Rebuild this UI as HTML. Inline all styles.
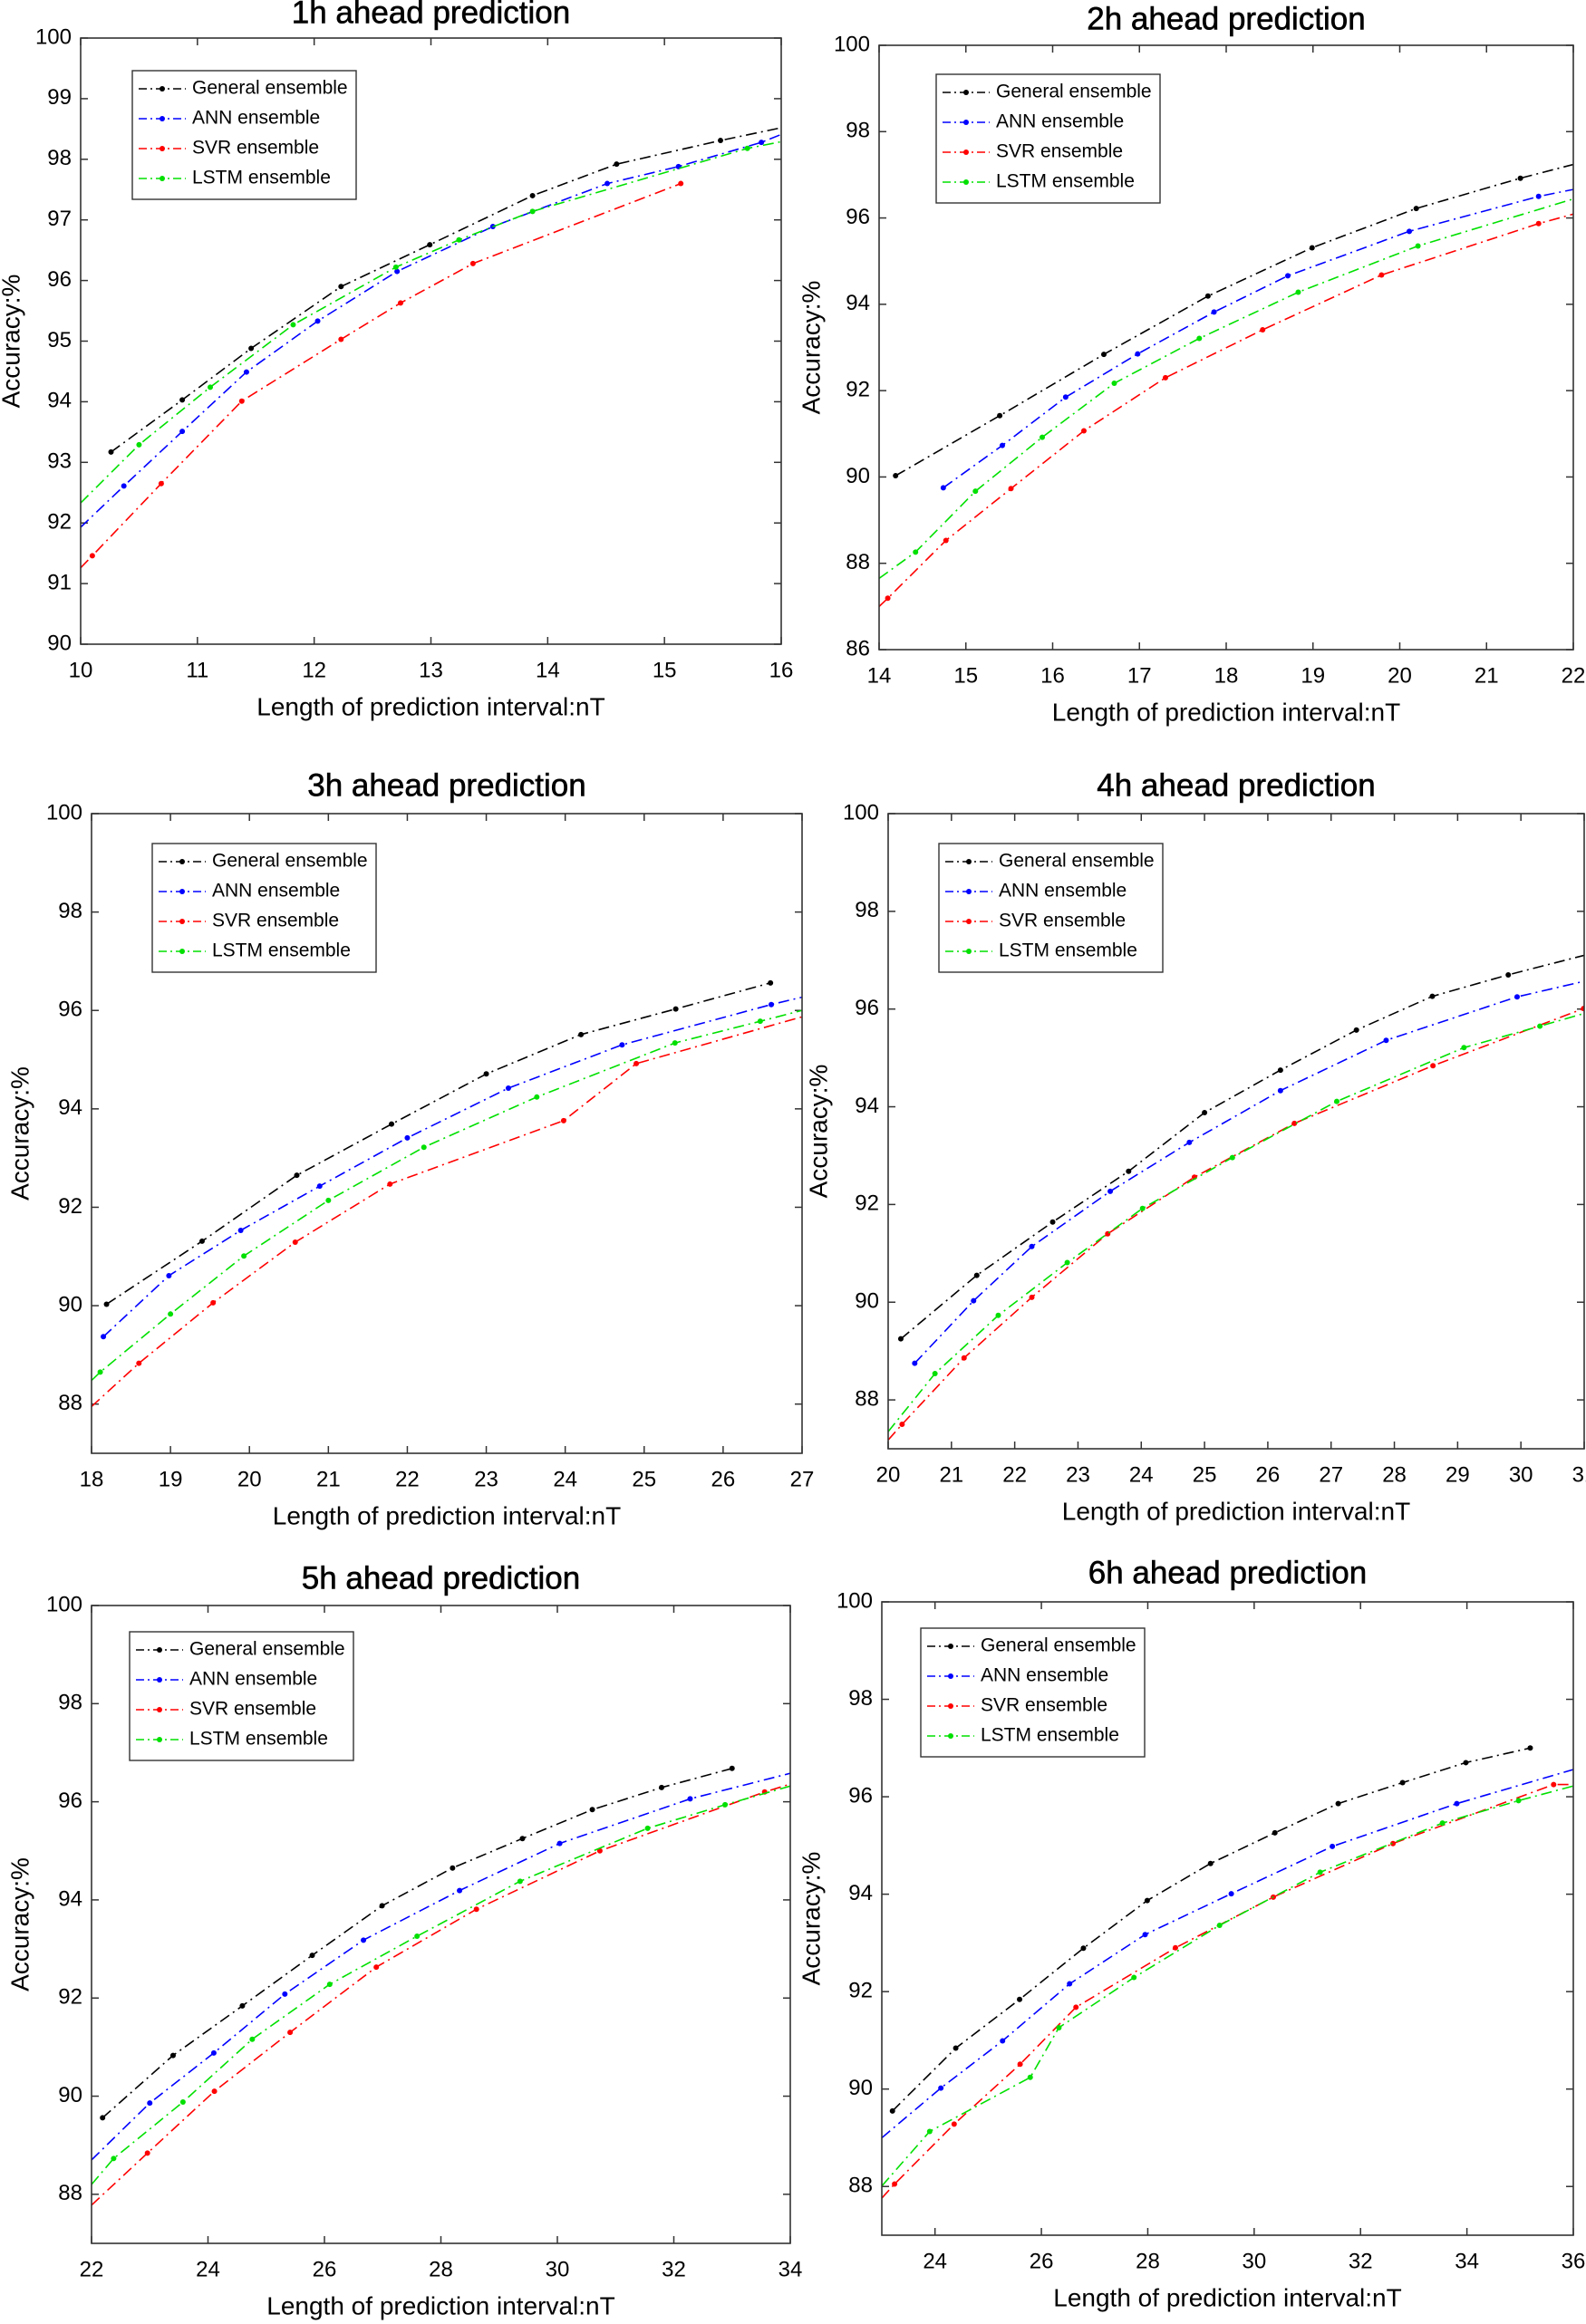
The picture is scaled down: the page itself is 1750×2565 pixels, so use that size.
<!DOCTYPE html>
<html><head><meta charset="utf-8"><style>
html,body{margin:0;padding:0;background:#fff;}
svg{display:block;font-family:"Liberation Sans",Arial,sans-serif;}
</style></head><body>
<svg id="fig" xmlns="http://www.w3.org/2000/svg" width="1750" height="2565" viewBox="0 0 1750 2565">
<rect x="0" y="0" width="1750" height="2565" fill="#fff"/>
</svg>
<script>
// ---------- data (x = interval length nT, y = accuracy %) ----------
const seriesNames = ["General ensemble","ANN ensemble","SVR ensemble","LSTM ensemble"];
// 1h
const h1GeneralX=[10.26,10.87,11.46,12.23,12.99,13.87,14.59,15.48,16.0];
const h1GeneralY=[93.17,94.03,94.88,95.9,96.59,97.4,97.92,98.31,98.52];
const h1AnnX=[10.0,10.37,10.87,11.42,12.03,12.71,13.53,14.51,15.12,15.83,16.0];
const h1AnnY=[91.93,92.61,93.51,94.49,95.33,96.15,96.89,97.6,97.88,98.28,98.41];
const h1SvrX=[10.0,10.1,10.69,11.38,12.23,12.74,13.36,15.14];
const h1SvrY=[91.26,91.46,92.65,94.01,95.03,95.63,96.28,97.6];
const h1LstmX=[10.0,10.5,11.11,11.82,12.7,13.24,13.87,15.71,16.0];
const h1LstmY=[92.33,93.29,94.24,95.27,96.22,96.67,97.14,98.18,98.29];
// 2h
const h2GeneralX=[14.19,15.39,16.59,17.79,18.99,20.19,21.39,22.0];
const h2GeneralY=[90.03,91.42,92.84,94.19,95.31,96.22,96.92,97.24];
const h2AnnX=[14.74,15.42,16.15,16.98,17.86,18.71,20.11,21.6,22.0];
const h2AnnY=[89.75,90.73,91.85,92.85,93.82,94.66,95.69,96.5,96.66];
const h2SvrX=[14.0,14.1,14.77,15.52,16.36,17.3,18.42,19.79,21.6,22.0];
const h2SvrY=[87.0,87.19,88.53,89.73,91.07,92.3,93.41,94.68,95.87,96.09];
const h2LstmX=[14.0,14.42,15.11,15.88,16.71,17.69,18.83,20.21,22.0];
const h2LstmY=[87.65,88.26,89.67,90.92,92.17,93.21,94.28,95.35,96.44];
// 3h
const h3GeneralX=[18.19,19.4,20.6,21.8,23.0,24.2,25.4,26.6];
const h3GeneralY=[90.03,91.31,92.65,93.69,94.71,95.51,96.03,96.56];
const h3AnnX=[18.15,18.98,19.89,20.89,22.0,23.28,24.72,26.61,27.0];
const h3AnnY=[89.37,90.61,91.53,92.43,93.41,94.42,95.3,96.12,96.27];
const h3SvrX=[18.0,18.6,19.54,20.58,21.78,23.98,24.9,27.0];
const h3SvrY=[87.95,88.83,90.06,91.29,92.47,93.76,94.92,95.87];
const h3LstmX=[18.0,18.11,19.0,19.93,21.0,22.21,23.64,25.39,26.47,27.0];
const h3LstmY=[88.48,88.65,89.83,91.01,92.14,93.22,94.24,95.34,95.78,96.0];
// 4h
const h4GeneralX=[20.2,21.4,22.6,23.8,25.0,26.2,27.4,28.6,29.8,31.0];
const h4GeneralY=[89.25,90.55,91.64,92.68,93.88,94.75,95.57,96.26,96.7,97.1];
const h4AnnX=[20.42,21.35,22.27,23.51,24.76,26.2,27.87,29.94,31.0];
const h4AnnY=[88.75,90.03,91.14,92.27,93.27,94.33,95.36,96.25,96.57];
const h4SvrX=[20.0,20.22,21.2,22.27,23.47,24.84,26.42,28.61,30.99];
const h4SvrY=[87.18,87.5,88.86,90.1,91.4,92.56,93.66,94.84,96.01];
const h4LstmX=[20.0,20.74,21.74,22.83,24.02,25.44,27.09,29.1,30.3,31.0];
const h4LstmY=[87.35,88.54,89.73,90.81,91.92,92.96,94.11,95.21,95.65,95.91];
// 5h
const h5GeneralX=[22.19,23.4,24.59,25.79,26.99,28.2,29.4,30.6,31.79,33.0];
const h5GeneralY=[89.56,90.83,91.84,92.87,93.88,94.65,95.25,95.84,96.29,96.68];
const h5AnnX=[22.0,23.0,24.1,25.32,26.67,28.32,30.04,32.28,34.0];
const h5AnnY=[88.7,89.86,90.88,92.08,93.18,94.19,95.15,96.06,96.58];
const h5SvrX=[22.0,22.96,24.11,25.41,26.89,28.61,30.73,33.56,34.0];
const h5SvrY=[87.78,88.84,90.1,91.3,92.63,93.81,95.0,96.2,96.36];
const h5LstmX=[22.0,22.38,23.57,24.76,26.09,27.59,29.36,31.55,32.88,34.0];
const h5LstmY=[88.2,88.73,89.88,91.16,92.28,93.26,94.38,95.46,95.94,96.32];
// 6h
const h6GeneralX=[23.2,24.39,25.59,26.79,27.99,29.18,30.39,31.58,32.79,33.98,35.19];
const h6GeneralY=[89.55,90.84,91.84,92.89,93.87,94.63,95.26,95.86,96.29,96.7,97.0];
const h6AnnX=[23.0,24.11,25.27,26.53,27.95,29.57,31.47,33.81,36.0];
const h6AnnY=[89.0,90.02,90.99,92.16,93.17,94.01,94.98,95.86,96.56];
const h6SvrX=[23.0,23.24,24.36,25.6,26.65,28.52,30.36,32.61,35.63,36.0];
const h6SvrY=[87.76,88.05,89.28,90.51,91.68,92.9,93.94,95.04,96.25,96.25];
const h6LstmX=[23.0,23.9,25.79,26.33,27.74,29.35,31.24,33.54,34.97,36.0];
const h6LstmY=[88.01,89.13,90.24,91.26,92.29,93.36,94.45,95.46,95.92,96.22];

const colors=["#000000","#0000ff","#ff0000","#00e000"];

const panels=[
 {id:"1h",title:"1h ahead prediction",L:89,R:862,T:42,B:711,xmin:10,xmax:16,ymin:90,ymax:100,xt:[10,11,12,13,14,15,16],yt:[90,91,92,93,94,95,96,97,98,99,100],ty:16,yl:14,lg:[146,78],
  s:[[h1GeneralX,h1GeneralY],[h1AnnX,h1AnnY],[h1SvrX,h1SvrY],[h1LstmX,h1LstmY]]},
 {id:"2h",title:"2h ahead prediction",L:970,R:1736,T:50,B:717,xmin:14,xmax:22,ymin:86,ymax:100,xt:[14,15,16,17,18,19,20,21,22],yt:[86,88,90,92,94,96,98,100],ty:23,yl:897,lg:[1033,82],
  s:[[h2GeneralX,h2GeneralY],[h2AnnX,h2AnnY],[h2SvrX,h2SvrY],[h2LstmX,h2LstmY]]},
 {id:"3h",title:"3h ahead prediction",L:101,R:885,T:898,B:1604,xmin:18,xmax:27,ymin:87,ymax:100,xt:[18,19,20,21,22,23,24,25,26,27],yt:[88,90,92,94,96,98,100],ty:869,yl:24,lg:[168,931],
  s:[[h3GeneralX,h3GeneralY],[h3AnnX,h3AnnY],[h3SvrX,h3SvrY],[h3LstmX,h3LstmY]]},
 {id:"4h",title:"4h ahead prediction",L:980,R:1748,T:898,B:1599,xmin:20,xmax:31,ymin:87,ymax:100,xt:[20,21,22,23,24,25,26,27,28,29,30,31],yt:[88,90,92,94,96,98,100],ty:869,yl:905,lg:[1036,931],
  s:[[h4GeneralX,h4GeneralY],[h4AnnX,h4AnnY],[h4SvrX,h4SvrY],[h4LstmX,h4LstmY]]},
 {id:"5h",title:"5h ahead prediction",L:101,R:872,T:1772,B:2476,xmin:22,xmax:34,ymin:87,ymax:100,xt:[22,24,26,28,30,32,34],yt:[88,90,92,94,96,98,100],ty:1744,yl:24,lg:[143,1801],
  s:[[h5GeneralX,h5GeneralY],[h5AnnX,h5AnnY],[h5SvrX,h5SvrY],[h5LstmX,h5LstmY]]},
 {id:"6h",title:"6h ahead prediction",L:973,R:1736,T:1768,B:2467,xmin:23,xmax:36,ymin:87,ymax:100,xt:[24,26,28,30,32,34,36],yt:[88,90,92,94,96,98,100],ty:1738,yl:897,lg:[1016,1797],
  s:[[h6GeneralX,h6GeneralY],[h6AnnX,h6AnnY],[h6SvrX,h6SvrY],[h6LstmX,h6LstmY]]}
];

const NS="http://www.w3.org/2000/svg";
const svg=document.getElementById("fig");
function mk(tag,attrs,parent){const e=document.createElementNS(NS,tag);for(const k in attrs)e.setAttribute(k,attrs[k]);(parent||svg).appendChild(e);return e;}
const DASH="12,5,2,5";

panels.forEach(p=>{
  const g=mk("g",{});
  
  
  const sx=v=>p.L+(v-p.xmin)/(p.xmax-p.xmin)*(p.R-p.L);
  const sy=v=>p.B-(v-p.ymin)/(p.ymax-p.ymin)*(p.B-p.T);
  const cid="clip"+p.id;
  const cp=mk("clipPath",{id:cid},g);mk("rect",{x:p.L,y:p.T,width:p.R-p.L,height:p.B-p.T},cp);

  const t=mk("text",{x:(p.L+p.R)/2,y:p.ty,"text-anchor":"middle","dominant-baseline":"middle","font-size":"35",stroke:"#000","stroke-width":"0.6"},g);
  t.textContent=p.title;
  
  

  const xg=mk("g",{},g);
  
  
  p.xt.forEach(v=>{
    const x=sx(v);
    mk("line",{x1:x,y1:p.B,x2:x,y2:p.B-8,stroke:"#333","stroke-width":1.5},xg);
    mk("line",{x1:x,y1:p.T,x2:x,y2:p.T+8,stroke:"#333","stroke-width":1.5},xg);
    const l=mk("text",{x:x,y:p.B+30,"text-anchor":"middle","dominant-baseline":"middle","font-size":"24"},xg);
    l.textContent=v;
    
    
  });
  const xl=mk("text",{x:(p.L+p.R)/2,y:p.B+71,"text-anchor":"middle","dominant-baseline":"middle","font-size":"28"},g);
  xl.textContent="Length of prediction interval:nT";
  
  

  const yg=mk("g",{},g);
  
  
  p.yt.forEach(v=>{
    const y=sy(v);
    mk("line",{x1:p.L,y1:y,x2:p.L+8,y2:y,stroke:"#333","stroke-width":1.5},yg);
    mk("line",{x1:p.R,y1:y,x2:p.R-8,y2:y,stroke:"#333","stroke-width":1.5},yg);
    const l=mk("text",{x:p.L-10,y:y,"text-anchor":"end","dominant-baseline":"middle","font-size":"24"},yg);
    l.textContent=v;
    
    
  });
  const ylab=mk("text",{x:0,y:0,"text-anchor":"middle","dominant-baseline":"middle","font-size":"28",transform:`translate(${p.yl},${(p.T+p.B)/2}) rotate(-90)`},g);
  ylab.textContent="Accuracy:%";
  
  

  const sg=mk("g",{"clip-path":`url(#${cid})`},g);
  p.s.forEach((s,i)=>{
    const xs=s[0],ys=s[1];
    const pts=xs.map((x,k)=>sx(x).toFixed(1)+","+sy(ys[k]).toFixed(1)).join(" ");
    const pl=mk("polyline",{points:pts,fill:"none",stroke:colors[i],"stroke-width":1.6,"stroke-dasharray":DASH},sg);
    
    
    xs.forEach((x,k)=>{
      if(x<=p.xmin+0.001||x>=p.xmax-0.001) return;
      const c=mk("circle",{cx:sx(x),cy:sy(ys[k]),r:3,fill:colors[i]},sg);
      
      
    });
  });

  const box=mk("rect",{x:p.L,y:p.T,width:p.R-p.L,height:p.B-p.T,fill:"none",stroke:"#333","stroke-width":1.6},g);
  
  

  const lg=mk("g",{},g);
  
  
  const lx=p.lg[0],ly=p.lg[1];
  mk("rect",{x:lx,y:ly,width:247,height:142,fill:"#fff",stroke:"#333","stroke-width":1.4},lg);
  seriesNames.forEach((n,i)=>{
    const ry=ly+20+i*33;
    const e=mk("g",{},lg);
    
    
    mk("line",{x1:lx+7,y1:ry,x2:lx+59,y2:ry,stroke:colors[i],"stroke-width":1.6,"stroke-dasharray":"9,4,2,4"},e);
    mk("circle",{cx:lx+33,cy:ry,r:3,fill:colors[i]},e);
    const tx=mk("text",{x:lx+66,y:ry,"dominant-baseline":"middle","font-size":"21"},e);
    tx.textContent=n;
  });
});
</script>
</body></html>
